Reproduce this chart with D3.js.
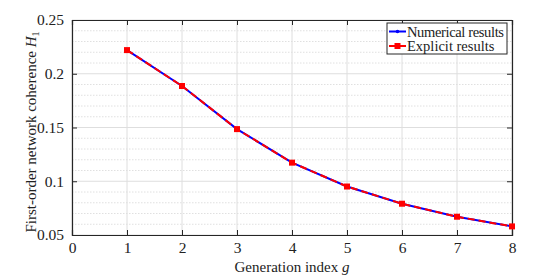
<!DOCTYPE html>
<html>
<head>
<meta charset="utf-8">
<script src="https://cdn.jsdelivr.net/npm/d3@7"></script>
<style>
  body { margin: 0; background: #fff; }
</style>
</head>
<body>
<svg id="chart" width="533" height="277"></svg>
<script>
// Data
var generations = [1, 2, 3, 4, 5, 6, 7, 8];
var numericalValues = [0.222, 0.1886, 0.1485, 0.1173, 0.0951, 0.0791, 0.0670, 0.0580];
var explicitValues = [0.222, 0.1886, 0.1485, 0.1173, 0.0951, 0.0791, 0.0670, 0.0580];
var xTicks = [0, 1, 2, 3, 4, 5, 6, 7, 8];
var yTicks = [0.05, 0.1, 0.15, 0.2, 0.25];
var yTickLabels = ['0.05', '0.1', '0.15', '0.2', '0.25'];
var yMinorTicks = d3.range(0.06, 0.25, 0.01).filter(function(v) {
  return Math.abs(v * 20 - Math.round(v * 20)) > 1e-6;
});

var FONT = "font-family: 'Liberation Serif', serif";

var margin = { top: 20, right: 21, bottom: 42, left: 72 };
var width = 533 - margin.left - margin.right,
    height = 277 - margin.top - margin.bottom;

var svg = d3.select('#chart');
var g = svg.append('g')
  .attr('transform', 'translate(' + margin.left + ',' + margin.top + ')');

var x = d3.scaleLinear().domain([0, 8]).range([0, width]);
var y = d3.scaleLinear().domain([0.05, 0.25]).range([height, 0]);

// Minor grid (dotted)
g.append('g').selectAll('line').data(yMinorTicks).enter().append('line')
  .attr('x1', 0).attr('x2', width)
  .attr('y1', function(d) { return y(d); }).attr('y2', function(d) { return y(d); })
  .attr('stroke', '#d8d8d8').attr('stroke-width', 0.8)
  .attr('stroke-dasharray', '1.5,1.5');

// Major grid
g.append('g').selectAll('line').data(yTicks).enter().append('line')
  .attr('x1', 0).attr('x2', width)
  .attr('y1', function(d) { return y(d); }).attr('y2', function(d) { return y(d); })
  .attr('stroke', '#dedede').attr('stroke-width', 1);
g.append('g').selectAll('line').data(xTicks).enter().append('line')
  .attr('x1', function(d) { return x(d); }).attr('x2', function(d) { return x(d); })
  .attr('y1', 0).attr('y2', height)
  .attr('stroke', '#dedede').attr('stroke-width', 1);

// Axes (ticks pointing inward, box on all sides)
var xAxis = d3.axisBottom(x).tickValues(xTicks).tickSize(-5).tickPadding(7)
  .tickFormat(d3.format('d'));
var yAxis = d3.axisLeft(y).tickValues(yTicks).tickSize(-5).tickPadding(8)
  .tickFormat(function(d, i) { return yTickLabels[i]; });

function styleTicks(s) {
  s.attr('font-family', null);
  s.selectAll('text').attr('style', FONT).attr('font-size', 15.5).attr('fill', '#222');
}

g.append('g').attr('transform', 'translate(0,' + height + ')').call(xAxis).call(styleTicks);
g.append('g').call(yAxis).call(styleTicks);
g.append('g').call(d3.axisTop(x).tickValues(xTicks).tickSize(-5).tickFormat(''));
g.append('g').attr('transform', 'translate(' + width + ',0)')
  .call(d3.axisRight(y).tickValues(yTicks).tickSize(-5).tickFormat(''));

g.selectAll('.domain').attr('stroke', '#262626').attr('stroke-width', 1.2);
g.selectAll('.tick line').attr('stroke', '#262626').attr('stroke-width', 1);

// Series
var line = d3.line()
  .x(function(d) { return x(d[0]); })
  .y(function(d) { return y(d[1]); });

var numData = generations.map(function(gg, i) { return [gg, numericalValues[i]]; });
var expData = generations.map(function(gg, i) { return [gg, explicitValues[i]]; });

g.append('path').datum(numData)
  .attr('d', line).attr('fill', 'none')
  .attr('stroke', '#0000ff').attr('stroke-width', 2);
g.append('g').selectAll('circle').data(numData).enter().append('circle')
  .attr('cx', function(d) { return x(d[0]); })
  .attr('cy', function(d) { return y(d[1]); })
  .attr('r', 1.5).attr('fill', '#0000ff');

g.append('path').datum(expData)
  .attr('d', line).attr('fill', 'none')
  .attr('stroke', '#ff0000').attr('stroke-width', 2)
  .attr('stroke-dasharray', '7,4');
g.append('g').selectAll('rect').data(expData).enter().append('rect')
  .attr('x', function(d) { return x(d[0]) - 3; })
  .attr('y', function(d) { return y(d[1]) - 3; })
  .attr('width', 6).attr('height', 6).attr('fill', '#ff0000');

// Axis labels
svg.append('text')
  .attr('style', FONT).attr('fill', '#222')
  .attr('x', margin.left + width / 2).attr('y', 272)
  .attr('text-anchor', 'middle').attr('font-size', 15)
  .html('Generation index <tspan font-style="italic">g</tspan>');

svg.append('text')
  .attr('style', FONT).attr('fill', '#222')
  .attr('transform', 'translate(36,132) rotate(-90)')
  .attr('text-anchor', 'middle').attr('font-size', 15)
  .html('First-order network coherence <tspan font-style="italic">H</tspan><tspan font-size="10" dy="3">1</tspan>');

// Legend
var legend = svg.append('g').attr('transform', 'translate(387,23)');
legend.append('rect').attr('width', 120).attr('height', 31)
  .attr('fill', '#fff').attr('stroke', '#262626').attr('stroke-width', 1);
var legendItems = [
  { label: 'Numerical results', color: '#0000ff', dash: null, marker: 'dot' },
  { label: 'Explicit results', color: '#ff0000', dash: '7,3', marker: 'square' }
];
legendItems.forEach(function(item, i) {
  var ly = 8.5 + i * 14.5;
  var row = legend.append('g').attr('transform', 'translate(0,' + ly + ')');
  row.append('line').attr('x1', 2).attr('x2', 19).attr('y1', 0).attr('y2', 0)
    .attr('stroke', item.color).attr('stroke-width', 2)
    .attr('stroke-dasharray', item.dash);
  if (item.marker === 'dot') {
    row.append('circle').attr('cx', 10.5).attr('cy', 0).attr('r', 1.8).attr('fill', item.color);
  } else {
    row.append('rect').attr('x', 7.5).attr('y', -3).attr('width', 6).attr('height', 6)
      .attr('fill', item.color);
  }
  row.append('text').attr('style', FONT).attr('x', 20).attr('y', 5)
    .attr('font-size', 14.5).attr('fill', '#222')
    .attr('textLength', item.label === 'Numerical results' ? 97 : null)
    .text(item.label);
});
</script>
</body>
</html>
